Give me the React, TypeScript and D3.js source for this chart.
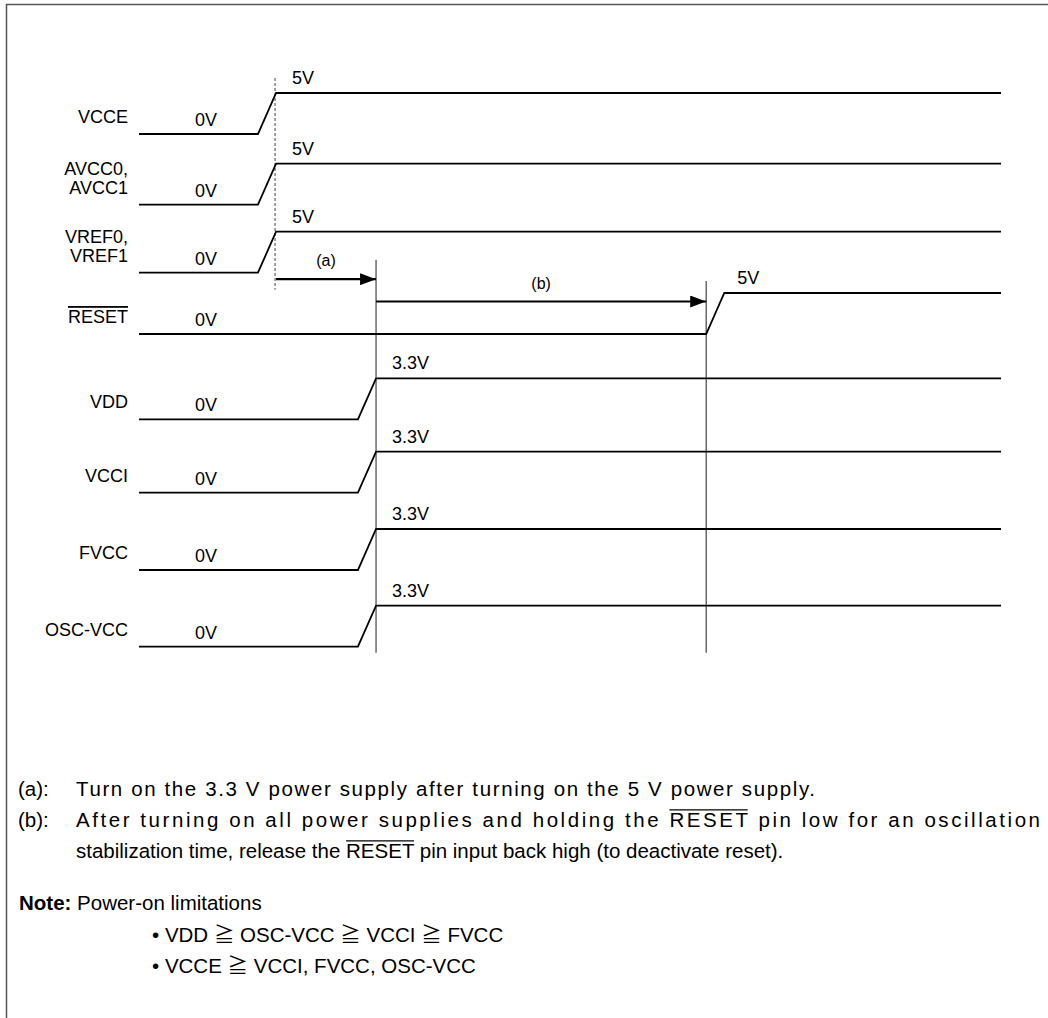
import React, { useLayoutEffect, useRef, useState } from "react";
import * as d3 from "d3";

// ---------- data ----------
const signalLabels: string[][] = [
  ["VCCE"],
  ["AVCC0,", "AVCC1"],
  ["VREF0,", "VREF1"],
  ["RESET"],
  ["VDD"],
  ["VCCI"],
  ["FVCC"],
  ["OSC-VCC"],
];
const overlined = [false, false, false, true, false, false, false, false];
const lowLevels = ["0V", "0V", "0V", "0V", "0V", "0V", "0V", "0V"];
const highLevels = ["5V", "5V", "5V", "5V", "3.3V", "3.3V", "3.3V", "3.3V"];
// time (arbitrary units, 0..100) at which each signal starts / ends its rise
const riseStart = [13.8, 13.8, 13.8, 65.8, 25.4, 25.4, 25.4, 25.4];
const riseEnd = [15.9, 15.9, 15.9, 67.9, 27.5, 27.5, 27.5, 27.5];
const T_5V_ON = 15.9;
const T_33V_ON = 27.5;
const T_RESET = 65.8;
const intervals = [
  { label: "(a)", from: T_5V_ON, to: T_33V_ON },
  { label: "(b)", from: T_33V_ON, to: T_RESET },
];
const noteA = "Turn on the 3.3 V power supply after turning on the 5 V power supply.";
const bullet1 = ["VDD", "OSC-VCC", "VCCI", "FVCC"];
const bullet2 = ["VCCE", "VCCI, FVCC, OSC-VCC"];

// ---------- layout ----------
const W = 1048;
const H = 1018;
const rowBaselines = [134, 204.7, 272.7, 334, 419.3, 492.7, 570, 646.7];
const x = d3.scaleLinear().domain([0, 100]).range([139, 1001]);
const amp = d3.scaleLinear().domain([0, 1]).range([0, -41]);
const FONT = "'Liberation Sans', Arial, Helvetica, sans-serif";
const CJK = "'Noto Sans CJK JP', 'DejaVu Sans', sans-serif";
const LFS = 18;
const TFS = 20.5;
const ol = { textDecoration: "overline" } as React.CSSProperties;

function wave(i: number) {
  const b = rowBaselines[i];
  const pts: [number, number][] = [
    [0, 0],
    [riseStart[i], 0],
    [riseEnd[i], 1],
    [100, 1],
  ];
  return d3
    .line<[number, number]>()
    .x((d) => x(d[0]))
    .y((d) => b + amp(d[1]))(pts);
}

function geChain(items: string[]) {
  const out: React.ReactNode[] = ["• "];
  items.forEach((it, k) => {
    if (k > 0) {
      out.push(" ");
      out.push(
        <tspan key={"g" + k} fontFamily={CJK}>
          ≧
        </tspan>
      );
      out.push(" ");
    }
    out.push(it);
  });
  return out;
}

type Seg = { x1: number; x2: number; y: number };

export default function App() {
  const svgRef = useRef<SVGSVGElement>(null);
  const [bars, setBars] = useState<Seg[]>([]);
  useLayoutEffect(() => {
    const svg = svgRef.current;
    if (!svg) return;
    const segs: Seg[] = [];
    svg.querySelectorAll<SVGTSpanElement>("tspan.olm").forEach((t) => {
      const n = t.getNumberOfChars();
      if (n < 1) return;
      const s = t.getStartPositionOfChar(0);
      const e = t.getEndPositionOfChar(n - 1);
      segs.push({ x1: s.x, x2: e.x, y: s.y - 0.716 * TFS - 2.5 });
    });
    setBars(segs);
  }, []);

  const topY = rowBaselines[0] + amp(1);
  const bottomY = rowBaselines[rowBaselines.length - 1] + 6;
  return (
    <svg
      ref={svgRef}
      width={W}
      height={H}
      style={{ position: "absolute", left: 0, top: 0, display: "block", background: "#fff" }}
      fontFamily={FONT}
    >
      <defs>
        <marker id="ah" viewBox="0 0 16 12" refX="16" refY="6" markerWidth="16" markerHeight="12" markerUnits="userSpaceOnUse" orient="auto">
          <path d="M0,0 L16,6 L0,12 Z" fill="#000" />
        </marker>
      </defs>
      {/* frame */}
      <line x1={6} y1={4.5} x2={W} y2={4.5} stroke="#555" strokeWidth={1.5} />
      <line x1={6.5} y1={4} x2={6.5} y2={H} stroke="#555" strokeWidth={1.5} />

      {/* marker lines */}
      <line x1={x(T_5V_ON) - 1} x2={x(T_5V_ON) - 1} y1={topY - 15} y2={rowBaselines[2] + 17} stroke="#444" strokeWidth={1} strokeDasharray="3,2" />
      <line x1={x(T_33V_ON)} x2={x(T_33V_ON)} y1={rowBaselines[2] - 13} y2={bottomY} stroke="#444" strokeWidth={1.2} />
      <line x1={x(T_RESET)} x2={x(T_RESET)} y1={rowBaselines[3] + amp(1) - 12} y2={bottomY} stroke="#444" strokeWidth={1.2} />

      {/* interval arrows */}
      {intervals.map((iv, k) => {
        const y = k === 0 ? rowBaselines[2] + 6.5 : rowBaselines[3] - 32.5;
        return (
          <g key={iv.label}>
            <line x1={x(iv.from)} x2={x(iv.to)} y1={y} y2={y} stroke="#000" strokeWidth={2.2} markerEnd="url(#ah)" />
            <text x={(x(iv.from) + x(iv.to)) / 2} y={y - 13} textAnchor="middle" fontSize={16}>
              {iv.label}
            </text>
          </g>
        );
      })}

      {/* waveforms */}
      {rowBaselines.map((b, i) => (
        <g key={i}>
          <path d={wave(i) || ""} fill="none" stroke="#000" strokeWidth={1.8} />
          {signalLabels[i].map((ln, j) => (
            <text
              key={j}
              x={128}
              y={b - 11 - (signalLabels[i].length - 1 - j) * 18.5}
              textAnchor="end"
              fontSize={LFS}
              style={overlined[i] ? ol : undefined}
            >
              {ln}
            </text>
          ))}
          <text x={x(6.5)} y={b - 8} fontSize={LFS}>
            {lowLevels[i]}
          </text>
          <text x={x(riseEnd[i]) + (i === 3 ? 13 : 16)} y={b + amp(1) - 9} fontSize={LFS}>
            {highLevels[i]}
          </text>
        </g>
      ))}

      {/* notes */}
      <g fontSize={TFS} fill="#000">
        <text x={18} y={796}>(a):</text>
        <text x={76} y={796} textLength={739} lengthAdjust="spacing">
          {noteA}
        </text>
        <text x={18} y={827}>(b):</text>
        <text x={76} y={827} textLength={964} lengthAdjust="spacing">
          After turning on all power supplies and holding the <tspan className="olm">RESET</tspan> pin low for an oscillation
        </text>
        <text x={76} y={858}>
          stabilization time, release the <tspan className="olm">RESET</tspan> pin input back high (to deactivate reset).
        </text>
        <text x={19} y={910}>
          <tspan fontWeight="bold">Note:</tspan> Power-on limitations
        </text>
        <text x={152} y={942}>{geChain(bullet1)}</text>
        <text x={152} y={973}>{geChain(bullet2)}</text>
      </g>
      {bars.map((s, k) => (
        <line key={k} x1={s.x1} x2={s.x2} y1={s.y} y2={s.y} stroke="#000" strokeWidth={1.2} />
      ))}
    </svg>
  );
}
